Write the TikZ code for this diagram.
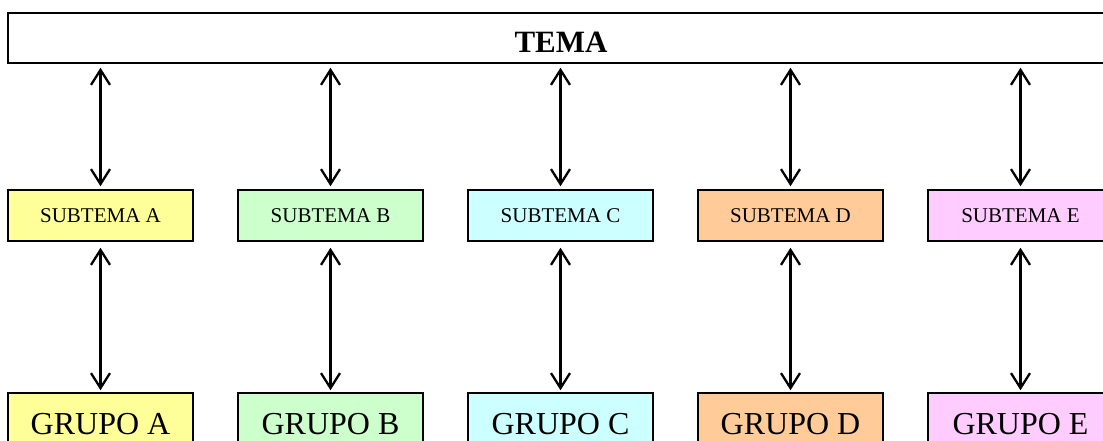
\documentclass[tikz,border=0pt]{standalone}
\usepackage{fontspec}
\setmainfont{Liberation Serif}
\usetikzlibrary{arrows.meta}
\definecolor{FillA}{HTML}{FFFF99}
\definecolor{FillB}{HTML}{CCFFCC}
\definecolor{FillC}{HTML}{CCFFFF}
\definecolor{FillD}{HTML}{FFCC99}
\definecolor{FillE}{HTML}{FFCCFF}
\tikzset{
  box/.style={draw=black,line width=1.5pt,inner sep=0pt,minimum width=185pt},
  sub/.style={box,minimum height=51pt,font=\fontsize{21}{21}\selectfont},
  grp/.style={box,minimum height=62pt,font=\fontsize{32}{32}\selectfont},
  arr/.style={{Straight Barb[length=15pt,width=19pt]}-{Straight Barb[length=15pt,width=19pt]},line width=2.3pt},
}

\begin{document}
\begin{tikzpicture}[x=1pt,y=-1pt]
\path[use as bounding box,clip] (0,0) rectangle (1103,441);
\node[box,minimum width=1106pt,minimum height=50pt,text height=30pt,text depth=0pt,font=\fontsize{31}{31}\selectfont\bfseries] (tema) at (561,38) {TEMA};
\foreach \l [count=\i from 0] in {A,B,C,D,E}{
  \node[sub,fill=Fill\l] (s\l) at (100.5+230*\i,215.5) {SUBTEMA \l};
  \node[grp,fill=Fill\l] (g\l) at (100.5+230*\i,424) {GRUPO \l};
  \draw[arr,shorten <=4pt,shorten >=3pt] (tema.south -| s\l.north) -- (s\l.north);
  \draw[arr,shorten <=6pt,shorten >=2pt] (s\l.south) -- (g\l.north);
}
\end{tikzpicture}
\end{document}
